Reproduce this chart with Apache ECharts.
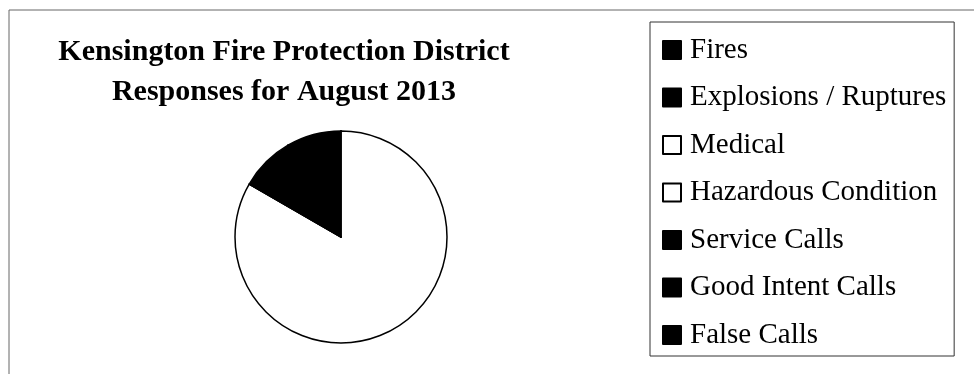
<!DOCTYPE html>
<html>
<head>
<meta charset="utf-8" />
<title>Kensington Fire Protection District</title>
<script src="https://cdn.jsdelivr.net/npm/echarts@6/dist/echarts.min.js"></script>
<style>
	html, body { margin: 0; padding: 0; background: #fff; }
	#chart { width: 974px; height: 374px; }
</style>
</head>
<body>
<div id="chart"></div>
<script type="text/javascript">
// call types and counts for the month
var categories = ['Fires', 'Explosions / Ruptures', 'Medical', 'Hazardous Condition', 'Service Calls', 'Good Intent Calls', 'False Calls'];
var counts = [0, 0, 10, 0, 1, 0, 1];
var fills = ['#000', '#000', '#fff', '#fff', '#000', '#000', '#000'];

var serif = '"Liberation Serif", "Times New Roman", serif';

var pieData = [];
for (var i = 0; i < categories.length; i++) {
	pieData.push({ name: categories[i], value: counts[i], itemStyle: { color: fills[i] } });
}

var myChart = echarts.init(document.getElementById('chart'));
var option = {
	animation: false,
	backgroundColor: '#fff',
	title: {
		text: 'Kensington Fire Protection District\nResponses for August 2013',
		left: 284,
		top: 32,
		padding: 0,
		textAlign: 'center',
		textStyle: {
			fontFamily: serif,
			fontWeight: 'bold',
			fontSize: 30,
			lineHeight: 40,
			color: '#000'
		}
	},
	legend: {
		orient: 'vertical',
		left: 650,
		top: 22,
		padding: [12, 8, 5, 12],
		itemGap: 15.5,
		itemWidth: 18,
		itemHeight: 18,
		icon: 'rect',
		borderColor: '#333',
		borderWidth: 1,
		selectedMode: false,
		data: categories,
		textStyle: {
			fontFamily: serif,
			fontSize: 29,
			lineHeight: 32,
			color: '#000',
			padding: [0, 0, 0, 4]
		}
	},
	graphic: [{
		// scanned page frame (only top and left edge visible)
		type: 'rect',
		silent: true,
		shape: { x: 9, y: 10, width: 1000, height: 400 },
		style: { fill: 'none', stroke: '#666', lineWidth: 1 }
	}],
	series: [{
		type: 'pie',
		center: [341, 237],
		radius: 106,
		startAngle: 90,
		clockwise: true,
		label: { show: false },
		labelLine: { show: false },
		emphasis: { disabled: true },
		itemStyle: { borderColor: '#000', borderWidth: 1.5 },
		data: pieData
	}]
};
myChart.setOption(option);
</script>
</body>
</html>
